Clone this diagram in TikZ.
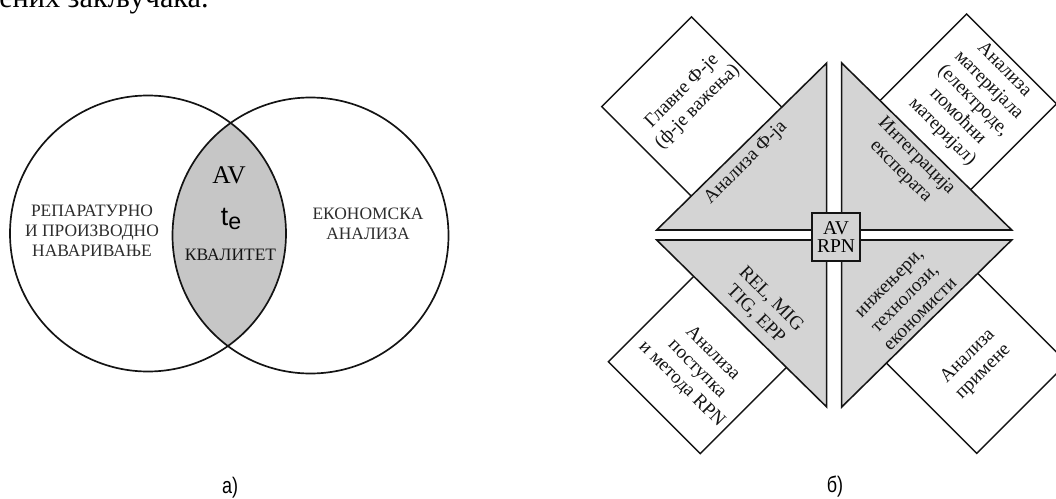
\documentclass[tikz,border=0pt]{standalone}
\usepackage{fontspec}
\setmainfont{Liberation Serif}
\newfontfamily\capsans{Liberation Sans}
\usepackage{xcolor}
\usepackage{tikz}
\definecolor{InkBlack}{RGB}{20, 20, 20}
\definecolor{LabelGray}{RGB}{45, 45, 45}
\definecolor{LensGray}{RGB}{198, 198, 198}
\definecolor{TriGray}{RGB}{212, 212, 212}

\begin{document}
\begin{tikzpicture}[x=0.25mm,y=0.25mm,
  vennline/.style={draw=InkBlack, line width=1.2pt},
  vennlbl/.style={text=LabelGray, align=center, inner sep=0pt, font=\fontsize{12.4}{14.2}\selectfont},
  wbox/.style={draw=InkBlack, fill=white, line width=1pt},
  tri/.style={draw=InkBlack, fill=TriGray, line width=1.1pt},
  rlbl/.style={text=InkBlack, align=center, inner sep=0pt, font=\fontsize{13.6}{15.6}\selectfont},
  caption/.style={inner sep=0pt, font=\capsans\fontsize{16}{16}\selectfont}]
  \path[use as bounding box] (0,0) rectangle (1056,498);
  \clip (0,0) rectangle (1056,498);

  % Text line cut by the upper edge
  \node[anchor=base west, inner sep=0pt, font=\fontsize{21.5}{24}\selectfont] (bodyline) at (-1,490.5) {ених закључака.};

  % a) Venn diagram
  \begin{scope}
    \clip (148,264.5) circle (138);
    \fill[LensGray] (310.5,262.5) circle (138);
  \end{scope}
  \draw[vennline] (148,264.5) circle (138);
  \draw[vennline] (310.5,262.5) circle (138);
  \node[vennlbl] (repair) at (92,267) {РЕПАРАТУРНО\\И ПРОИЗВОДНО\\НАВАРИВАЊЕ};
  \node[vennlbl] (econ) at (368,274) {ЕКОНОМСКА\\АНАЛИЗА};
  \node[inner sep=0pt, font=\fontsize{18.1}{20}\selectfont] (lensav) at (229,323) {AV};
  \node[inner sep=0pt, font=\capsans\fontsize{19}{19}\selectfont] (lenste) at (231,279)
    {t\raisebox{-2.5pt}{\fontsize{16.5}{16.5}\selectfont e}};
  \node[vennlbl, text=InkBlack] (quality) at (230.5,243) {КВАЛИТЕТ};
  \node[caption] (capa) at (230,10) {\scalebox{0.8}[1]{а)}};

  % b) Boxes first, the triangles cover their inner corners
  \draw[wbox, shift={(601.7,391.3)}, rotate=45] (0,0) rectangle (127,-150);
  \draw[wbox, shift={(966.7,484)}, rotate=-45] (0,0) rectangle (127,-150);
  \draw[wbox, shift={(608.3,136.3)}, rotate=-45] (0,0) rectangle (130,150);
  \draw[wbox, shift={(976.7,44.7)}, rotate=45] (0,0) rectangle (128,150);

  % Four triangles round the centre
  \foreach \sx/\sy in {-1/1, 1/1, -1/-1, 1/-1}
    \draw[tri] ({834.2+7.5*\sx},{263+5*\sy}) -- ({834.2+177.5*\sx},{263+5*\sy})
      -- ({834.2+7.5*\sx},{263+172*\sy}) -- cycle;

  % Centre box
  \node[draw=InkBlack, fill=TriGray, line width=0.9pt, inner sep=0pt, minimum width=12mm, minimum height=12mm,
    align=center, font=\fontsize{13.9}{13}\selectfont] (avrpn) at (836,261) {AV\\RPN};

  % Labels
  \node[rlbl, rotate=45] (mainfn) at (690,399) {Главне Ф-је\\(ф-је важења)};
  \node[rlbl, rotate=45] (fnanal) at (746,335) {Анализа Ф-ја};
  \node[rlbl, rotate=-45] (matanal) at (973,397) {Анализа\\материјала\\(електроде,\\помоћни\\материјал)};
  \node[rlbl, rotate=-45] (experts) at (908.5,334) {Интеграција\\експерата};
  \node[rlbl, rotate=-45] (procs) at (763.3,191) {REL, MIG\\TIG, EPP};
  \node[rlbl, rotate=-45] (procanal) at (697,129) {Анализа\\поступка\\и метода RPN};
  \node[rlbl, rotate=45] (staff) at (905.3,199) {инжењери,\\технолози,\\економисти};
  \node[rlbl, rotate=45] (useanal) at (975.7,134) {Анализа\\примене};
  \node[caption] (capb) at (835,11) {\scalebox{0.8}[1]{б)}};
\end{tikzpicture}
\end{document}
